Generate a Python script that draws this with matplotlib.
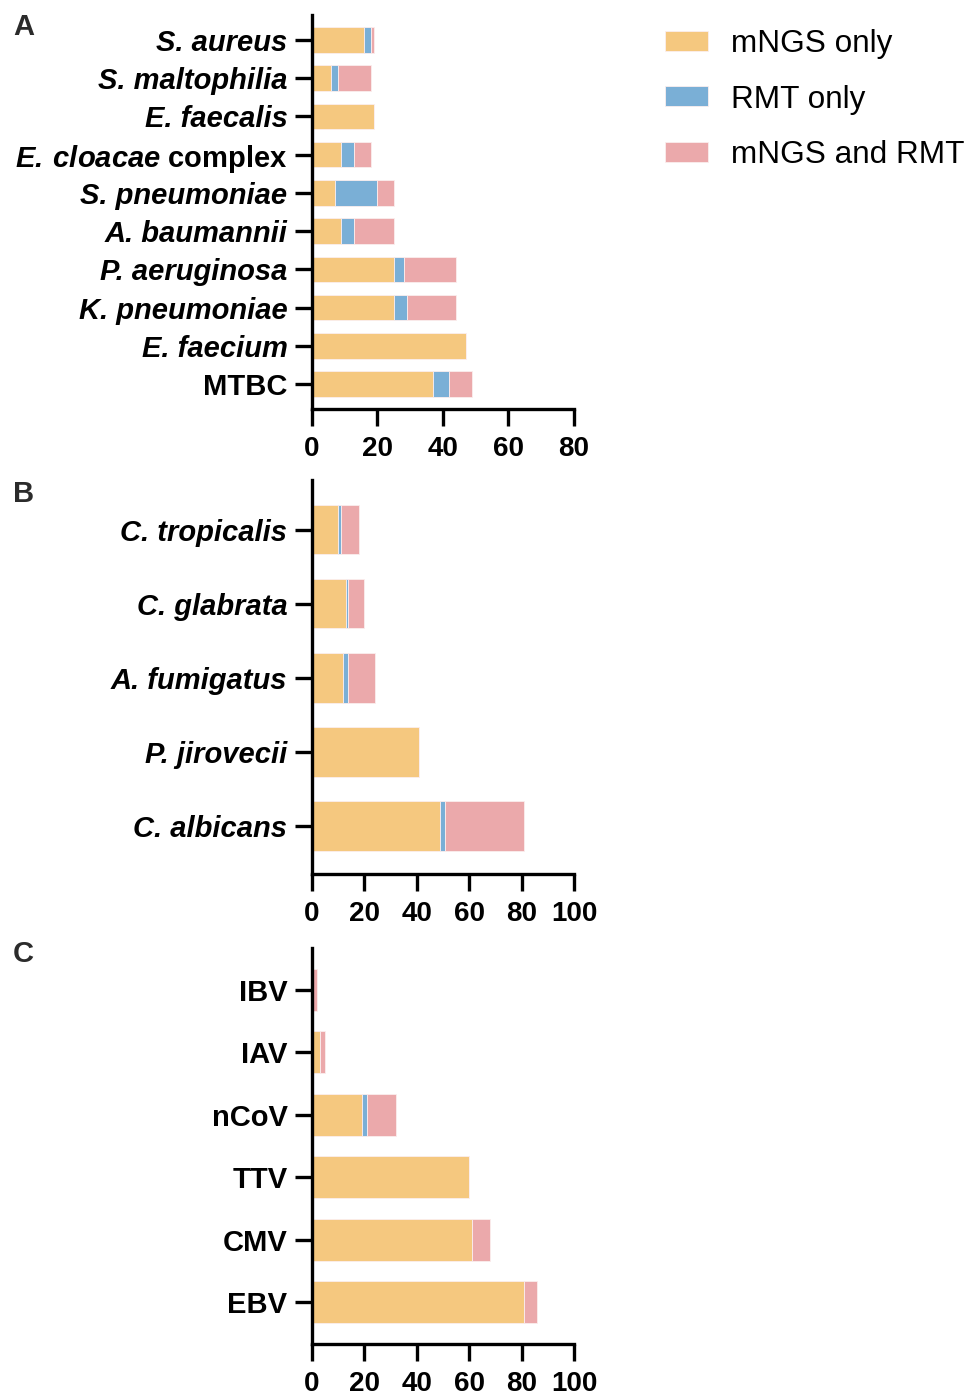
import numpy as np
import matplotlib.pyplot as plt

plt.rcParams['font.family'] = ['Liberation Sans', 'DejaVu Sans']
plt.rcParams['mathtext.fontset'] = 'custom'
plt.rcParams['mathtext.rm'] = 'Liberation Sans'
plt.rcParams['mathtext.it'] = 'Liberation Sans:italic'
plt.rcParams['mathtext.bf'] = 'Liberation Sans:bold'
plt.rcParams['mathtext.bfit'] = 'Liberation Sans:italic:bold'

# ---------------------------------------------------------
# Data (counts), listed top to bottom as in the figure
# ---------------------------------------------------------
bact = ["S. aureus", "S. maltophilia", "E. faecalis", "E. cloacae complex",
        "S. pneumoniae", "A. baumannii", "P. aeruginosa", "K. pneumoniae",
        "E. faecium", "MTBC"]
bact_mngs = [16, 6, 19, 9, 7, 9, 25, 25, 47, 37]
bact_rmt  = [2, 2, 0, 4, 13, 4, 3, 4, 0, 5]
bact_both = [1, 10, 0, 5, 5, 12, 16, 15, 0, 7]

fungi = ["C. tropicalis", "C. glabrata", "A. fumigatus", "P. jirovecii", "C. albicans"]
fungi_mngs = [10, 13, 12, 41, 49]
fungi_rmt  = [1, 1, 2, 0, 2]
fungi_both = [7, 6, 10, 0, 30]

virus = ["IBV", "IAV", "nCoV", "TTV", "CMV", "EBV"]
virus_mngs = [0, 3, 19, 60, 61, 81]
virus_rmt  = [0, 0, 2, 0, 0, 0]
virus_both = [2, 2, 11, 0, 7, 5]

c_mngs = "#F5C87F"
c_rmt = "#7AAFD6"
c_both = "#EBA9AB"


def label_text(name, italic):
    # species names in bold italic, "complex" stays upright
    if not italic:
        return name
    if name.endswith(" complex"):
        sp = name[:-len(" complex")].replace(" ", "\\:")
        return "$\\mathbfit{" + sp + "}$ complex"
    return name


def stacked_panel(ax, cats, mngs, rmt, both, xmax, step, italic_mask):
    y = np.arange(len(cats))
    mngs = np.array(mngs)
    rmt = np.array(rmt)
    both = np.array(both)
    kw = dict(height=0.67, edgecolor="#fbeeee", linewidth=0.6)
    ax.barh(y, mngs, color=c_mngs, label="mNGS only", **kw)
    ax.barh(y, rmt, left=mngs, color=c_rmt, label="RMT only", **kw)
    ax.barh(y, both, left=mngs + rmt, color=c_both, label="mNGS and RMT", **kw)

    ax.set_xlim(0, xmax)
    ax.set_xticks(np.arange(0, xmax + 1, step))
    ax.set_yticks(y)
    ax.set_yticklabels([label_text(c, it) for c, it in zip(cats, italic_mask)])
    for lab, c, it in zip(ax.get_yticklabels(), cats, italic_mask):
        lab.set_fontweight("bold")
        lab.set_fontsize(21)
        if it and not c.endswith(" complex"):
            lab.set_fontstyle("italic")
    for lab in ax.get_xticklabels():
        lab.set_fontweight("bold")
        lab.set_fontsize(20)

    ax.spines["top"].set_visible(False)
    ax.spines["right"].set_visible(False)
    ax.spines["left"].set_linewidth(2.4)
    ax.spines["bottom"].set_linewidth(2.4)
    ax.tick_params(axis="both", length=12, width=2.4)
    ax.tick_params(axis="y", pad=5.5)
    ax.tick_params(axis="x", pad=7.5)


fig = plt.figure(figsize=(9.68, 13.96), dpi=100)

ax_a = fig.add_axes([0.322, 0.707, 0.271, 0.2823])
stacked_panel(ax_a, bact, bact_mngs, bact_rmt, bact_both, 80, 20,
              [True] * 9 + [False])
ax_a.set_ylim(9.65, -0.65)

ax_b = fig.add_axes([0.322, 0.3739, 0.271, 0.2823])
stacked_panel(ax_b, fungi, fungi_mngs, fungi_rmt, fungi_both, 100, 20,
              [True] * 5)
ax_b.set_ylim(4.65, -0.67)

ax_c = fig.add_axes([0.322, 0.0372, 0.271, 0.2837])
stacked_panel(ax_c, virus, virus_mngs, virus_rmt, virus_both, 100, 20,
              [False] * 6)
ax_c.set_ylim(5.67, -0.67)

for txt, ypos in [("A", 0.9905), ("B", 0.6565), ("C", 0.3265)]:
    fig.text(0.0135, ypos, txt, fontsize=21, fontweight="bold", color="#2b2b2b",
             va="top", ha="left")

handles, labels = ax_a.get_legend_handles_labels()
fig.legend(handles, labels, loc="upper left", bbox_to_anchor=(0.687, 0.979),
           frameon=False, fontsize=22.7, handlelength=1.36, handleheight=0.6,
           handletextpad=0.73, labelspacing=0.8, borderpad=0, borderaxespad=0)

fig.savefig("out.png", dpi=100)
